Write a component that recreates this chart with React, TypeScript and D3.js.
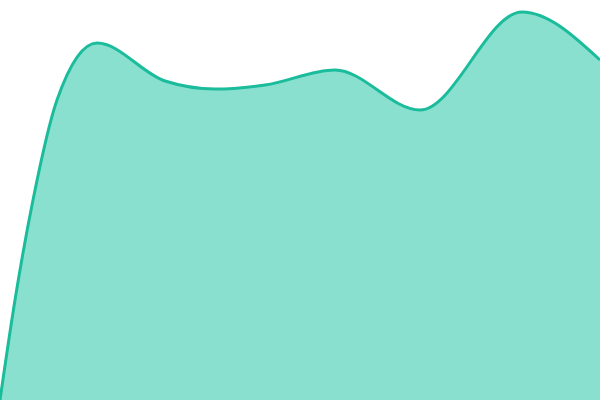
import * as d3 from "d3";

const xs = [0, 15, 33, 57, 97, 165, 215, 265, 335, 420, 522, 600];
const values = [0, 100, 200, 300, 357, 319, 311, 315, 330, 290, 388, 340];

const width = 600;
const height = 400;

export default function App() {
  const x = d3.scaleLinear().domain([0, 600]).range([0, width]);
  const y = d3.scaleLinear().domain([0, 400]).range([height, 0]);
  const pts = xs.map((d, i) => [d, values[i]] as [number, number]);
  const area = d3
    .area<[number, number]>()
    .x(d => x(d[0]))
    .y0(height)
    .y1(d => y(d[1]))
    .curve(d3.curveMonotoneX);
  const line = d3
    .line<[number, number]>()
    .x(d => x(d[0]))
    .y(d => y(d[1]))
    .curve(d3.curveMonotoneX);
  return (
    <svg
      width={width}
      height={height}
      style={{ position: "fixed", left: 0, top: 0, background: "#fff" }}
    >
      <path d={area(pts) ?? ""} fill="#8ae0cf" />
      <path d={line(pts) ?? ""} fill="none" stroke="#1abc9c" strokeWidth={3} />
    </svg>
  );
}
